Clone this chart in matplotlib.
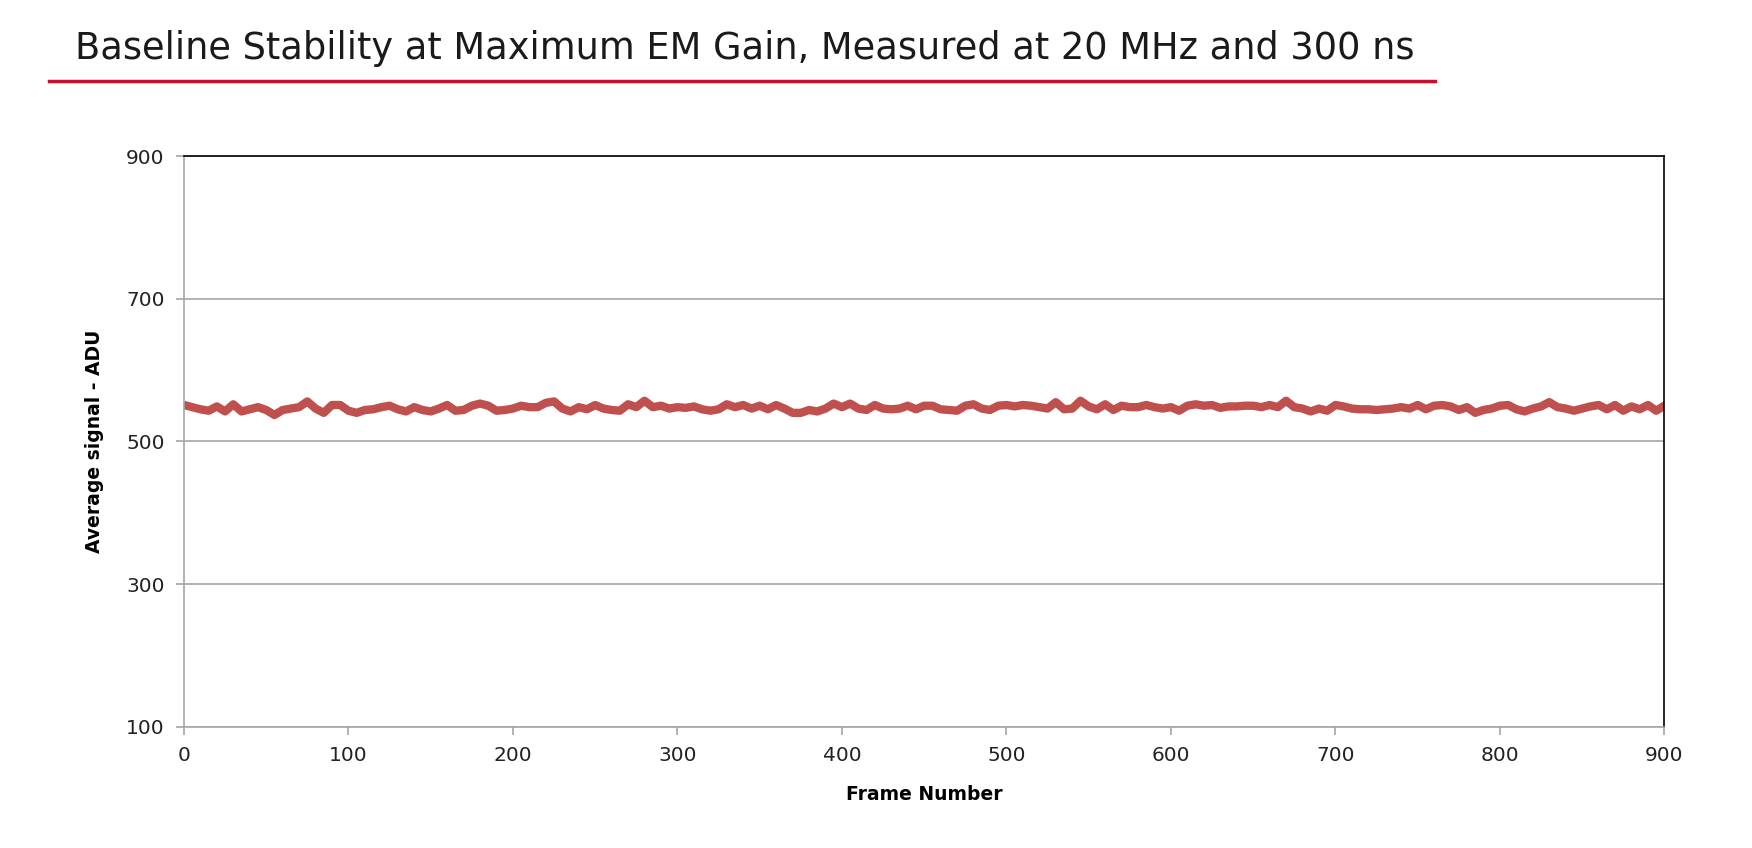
import matplotlib
matplotlib.use("Agg")
import matplotlib.pyplot as plt
from matplotlib.lines import Line2D

# baseline, one value every 5 frames
frames = list(range(0, 901, 5))
signal = [
    551, 548, 545, 543, 549, 542, 552, 542, 545, 548,
    544, 537, 544, 546, 548, 556, 546, 540, 551, 551,
    543, 540, 544, 545, 548, 550, 545, 542, 548, 544,
    542, 546, 551, 543, 544, 550, 553, 550, 543, 544,
    546, 550, 548, 548, 554, 556, 546, 542, 548, 545,
    551, 546, 544, 543, 552, 548, 557, 548, 550, 546,
    548, 547, 549, 545, 543, 545, 552, 548, 551, 546,
    550, 545, 551, 546, 540, 540, 544, 542, 546, 553,
    548, 553, 546, 544, 551, 546, 545, 546, 550, 545,
    550, 550, 545, 544, 543, 550, 552, 546, 544, 550,
    551, 549, 551, 550, 548, 546, 555, 545, 546, 557,
    549, 545, 552, 544, 550, 548, 548, 551, 548, 546,
    548, 543, 550, 552, 550, 551, 547, 549, 549, 550,
    550, 548, 551, 548, 557, 548, 546, 542, 546, 543,
    551, 549, 546, 545, 545, 544, 545, 546, 548, 546,
    551, 545, 550, 551, 549, 544, 548, 540, 544, 546,
    550, 551, 545, 542, 546, 549, 555, 548, 546, 543,
    546, 549, 551, 545, 551, 543, 549, 545, 551, 543,
    550,
]

title = "Baseline Stability at Maximum EM Gain, Measured at 20 MHz and 300 ns"
xticks = [0, 100, 200, 300, 400, 500, 600, 700, 800, 900]
yticks = [100, 300, 500, 700, 900]

fig = plt.figure(figsize=(17.52, 8.48), dpi=100)
ax = fig.add_axes([0.105, 0.143, 0.845, 0.673])

ax.plot(frames, signal, color="#C0504D", lw=6, solid_joinstyle="round")

ax.set_xlim(0, 900)
ax.set_ylim(100, 900)
ax.set_xticks(xticks)
ax.set_yticks(yticks)
ax.grid(axis="y", color="#A6A6A6", lw=1.2)
ax.set_axisbelow(True)

for side in ["left", "bottom"]:
    ax.spines[side].set_color("#A6A6A6")
    ax.spines[side].set_linewidth(1.2)
for side in ["top", "right"]:
    ax.spines[side].set_color("black")
    ax.spines[side].set_linewidth(1.2)

ax.tick_params(axis="both", colors="#A6A6A6", labelcolor="#222222",
               labelsize=14.5, length=6, width=1.2, direction="out", pad=8)

ax.set_xlabel("Frame Number", fontsize=13.5, fontweight="bold", labelpad=14)
ax.set_ylabel("Average signal - ADU", fontsize=13.5, fontweight="bold", labelpad=16)

fig.text(0.043, 0.943, title, fontsize=26.5, ha="left", va="center", color="#1a1a1a")
fig.add_artist(Line2D([0.028, 0.819], [0.905, 0.905], color="#C8102E", lw=2.5,
                      transform=fig.transFigure))

fig.savefig("out.png", dpi=100)
